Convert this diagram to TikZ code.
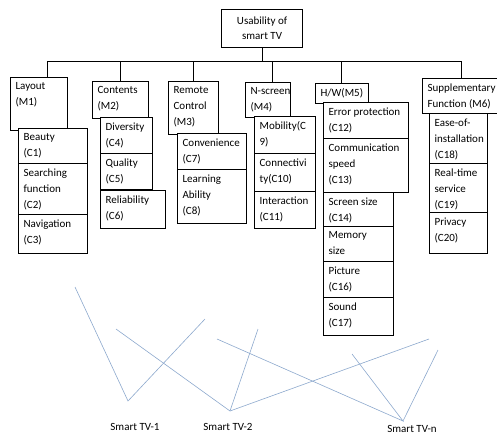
\documentclass[tikz,border=0pt]{standalone}
\usepackage{fontspec}
\setmainfont{Carlito}
\definecolor{tvblue}{RGB}{140,168,205}

\tikzset{
  hbox/.style={draw, line width=1.2pt, fill=white, anchor=north west, inner sep=0pt},
  link/.style={line width=1pt},
  tvline/.style={color=tvblue, line width=0.6pt},
  tvlabel/.style={font=\fontsize{11}{13}\selectfont},
}

% name, x, y, width, height, text
\newcommand{\boxnode}[6]{%
  \node[hbox] (#1) at (#2,#3)
    {\parbox[c][#5pt][t]{#4pt}{\fontsize{11}{16}\selectfont\raggedright\leftskip=5pt\vspace*{5pt}#6}};
}

\begin{document}
\begin{tikzpicture}[x=1pt,y=-1pt]
\useasboundingbox (0,0) rectangle (497,436);

\node[hbox, minimum width=81pt, minimum height=38pt, align=center,
  font=\fontsize{11}{15}\selectfont] (top) at (221,9) {Usability of\\smart TV};

% bus
\coordinate (d1) at (47,61);
\coordinate (d2) at (120,61);
\coordinate (d3) at (193,61);
\coordinate (d4) at (272,61);
\coordinate (d5) at (341,61);
\coordinate (d6) at (461,61);
\draw[link] (top.south) -- (top.south |- d1);
\draw[link] (d1) -- (d6);

\boxnode{m1}{10}{77}{57}{53}{Layout\\(M1)}
\boxnode{m2}{92}{81}{56}{37}{Contents\\(M2)}
\boxnode{m3}{168}{81}{50}{53}{Remote\\Control\\(M3)}
\boxnode{m4}{245}{82}{45}{35}{N-screen\\(M4)}
\boxnode{m5}{315}{83}{53}{20}{H/W(M5)}
\boxnode{m6}{422}{78}{75}{35}{Supplementary\\Function (M6)}

\draw[link] (d1) -- (d1 |- m1.north);
\draw[link] (d2) -- (d2 |- m2.north);
\draw[link] (d3) -- (d3 |- m3.north);
\draw[link] (d4) -- (d4 |- m4.north);
\draw[link] (d5) -- (d5 |- m5.north);
\draw[link] (d6) -- (d6 |- m6.north);

\boxnode{c1}{18}{128}{69}{35}{Beauty\\(C1)}
\boxnode{c2}{18}{163}{69}{51}{Searching\\function\\(C2)}
\boxnode{c3}{18}{214}{69}{39}{Navigation\\(C3)}

\boxnode{c4}{100}{117}{52}{36}{Diversity\\(C4)}
\boxnode{c5}{100}{153}{52}{36}{Quality\\(C5)}
\boxnode{c6}{100}{190}{65}{38}{Reliability\\(C6)}

\boxnode{c7}{177}{133}{69}{36}{Convenience\\(C7)}
\boxnode{c8}{177}{169}{69}{54}{Learning\\Ability\\(C8)}

\boxnode{c9}{254}{116}{61}{37}{Mobility(C\\9)}
\boxnode{c10}{254}{153}{61}{38}{Connectivi\\ty(C10)}
\boxnode{c11}{254}{191}{61}{37}{Interaction\\(C11)}

\boxnode{c12}{323}{102}{85}{36}{Error protection\\(C12)}
\boxnode{c13}{323}{138}{85}{54}{Communication\\speed\\(C13)}
\boxnode{c14}{323}{192}{70}{34}{Screen size\\(C14)}
\boxnode{c15}{323}{226}{70}{35}{Memory\\size}
\boxnode{c16}{323}{261}{70}{36}{Picture\\(C16)}
\boxnode{c17}{323}{297}{70}{38}{Sound\\(C17)}

\boxnode{c18}{429}{113}{58}{50}{Ease-of-\\installation\\(C18)}
\boxnode{c19}{429}{163}{58}{49}{Real-time\\service\\(C19)}
\boxnode{c20}{429}{212}{58}{41}{Privacy\\(C20)}

% smart TVs
\coordinate (v1) at (128,401);
\coordinate (v2) at (230,411);
\coordinate (vn) at (403,421);
\coordinate (a1) at (75,287);
\coordinate (a2) at (205,319);
\coordinate (b1) at (116,329);
\coordinate (b2) at (258,329);
\coordinate (b3) at (429,339);
\coordinate (n1) at (217,339);
\coordinate (n2) at (352,354);
\coordinate (n3) at (438,350);

\draw[tvline] (a1) -- (v1) -- (a2);
\draw[tvline] (b1) -- (v2) -- (b2);
\draw[tvline] (v2) -- (b3);
\draw[tvline] (n1) -- (vn) -- (n2);
\draw[tvline] (vn) -- (n3);

\node[tvlabel] (tv1) at (135,427) {Smart TV-1};
\node[tvlabel] (tv2) at (228,427) {Smart TV-2};
\node[tvlabel] (tvn) at (412,429) {Smart TV-n};
\end{tikzpicture}
\end{document}
